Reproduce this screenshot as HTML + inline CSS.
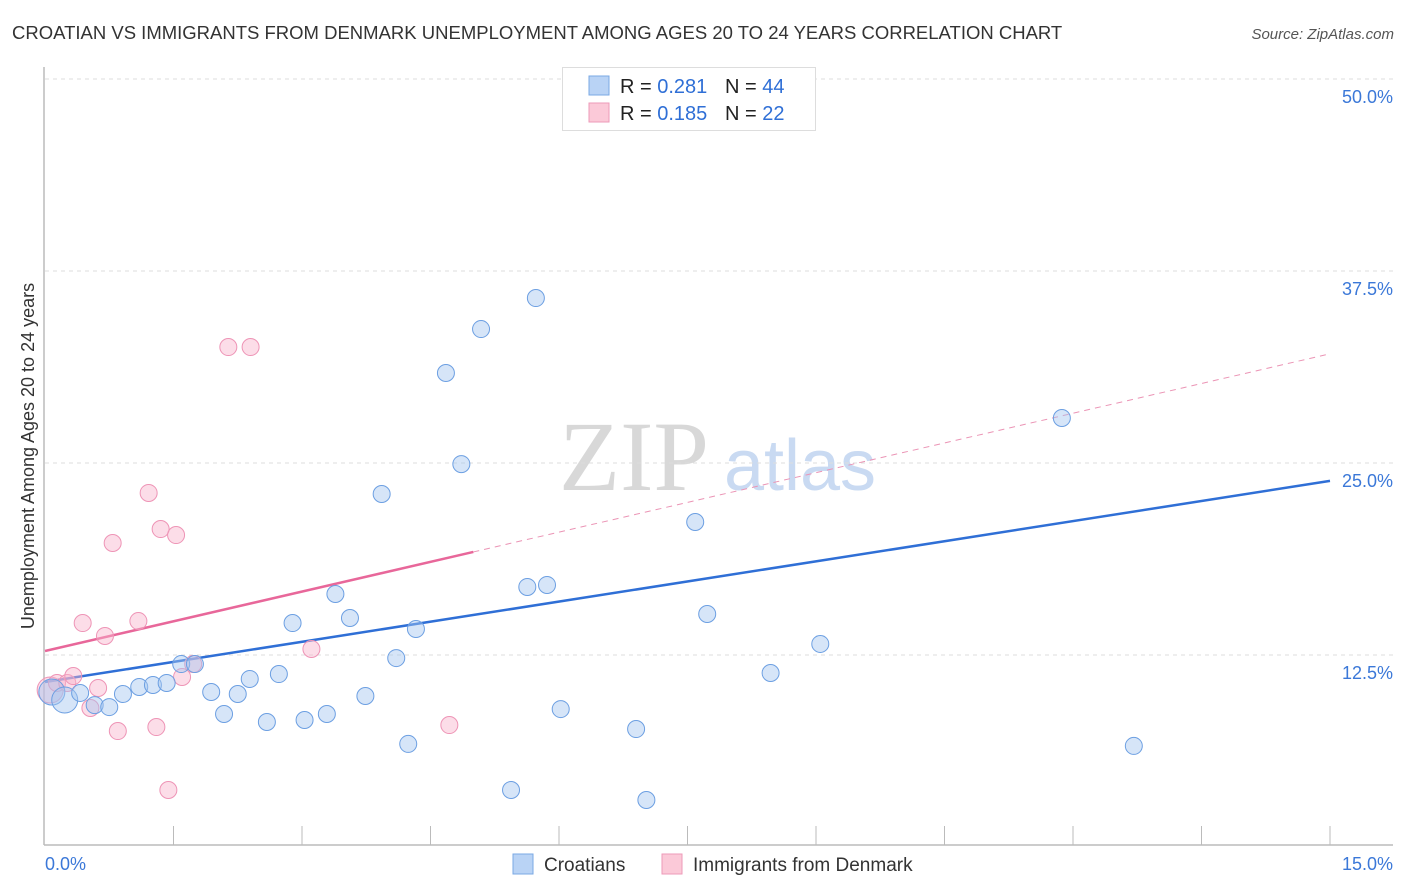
<!DOCTYPE html>
<html><head><meta charset="utf-8"><style>
body{margin:0;background:#fff;font-family:"Liberation Sans",sans-serif;}
#wrap{position:relative;width:1406px;height:892px;overflow:hidden;}
</style></head><body>
<div id="wrap">
<svg id="svg" width="1406" height="892">
<text x="12" y="39" font-size="18.5" fill="#333">CROATIAN VS IMMIGRANTS FROM DENMARK UNEMPLOYMENT AMONG AGES 20 TO 24 YEARS CORRELATION CHART</text>
<text x="1394" y="39" font-size="15" fill="#555" font-style="italic" text-anchor="end">Source: ZipAtlas.com</text>
<text x="634" y="490" font-size="100" fill="#d8d8d8" font-family="Liberation Serif,serif" text-anchor="middle">ZIP</text>
<text x="800" y="490" font-size="72" fill="#c9daf2" text-anchor="middle">atlas</text>
<text transform="translate(34,456) rotate(-90)" font-size="18" fill="#333" text-anchor="middle">Unemployment Among Ages 20 to 24 years</text>
<g id="grid"></g><g id="axes"></g><g id="lines"></g><g id="pts"></g>
<g>
<rect x="562.5" y="67.5" width="253" height="63" fill="#fff" stroke="#ddd"/>
<rect x="589" y="76" width="20" height="19" fill="#b9d3f5" stroke="#7aa8e4"/>
<rect x="589" y="103" width="20" height="19" fill="#fbc9d8" stroke="#ee9ab8"/>
<text x="620" y="93" font-size="20" fill="#222">R = <tspan fill="#2f6fd6">0.281</tspan></text>
<text x="725" y="93" font-size="20" fill="#222">N = <tspan fill="#2f6fd6">44</tspan></text>
<text x="620" y="120" font-size="20" fill="#222">R = <tspan fill="#2f6fd6">0.185</tspan></text>
<text x="725" y="120" font-size="20" fill="#222">N = <tspan fill="#2f6fd6"> 22</tspan></text>
</g>
<g>
<rect x="513" y="854" width="20" height="20" fill="#b9d3f5" stroke="#7aa8e4"/>
<text x="544" y="871" font-size="19" fill="#333">Croatians</text>
<rect x="662" y="854" width="20" height="20" fill="#fbc9d8" stroke="#ee9ab8"/>
<text x="693" y="871" font-size="19" fill="#333">Immigrants from Denmark</text>
</g>
</svg></div>
<script>
const blueX=[0.08,0.23,0.41,0.58,0.75,0.91,1.10,1.26,1.42,1.59,1.75,1.94,2.09,2.25,2.39,2.59,2.73,2.89,3.03,3.29,3.39,3.56,3.74,3.93,4.10,4.24,4.33,4.68,4.86,5.09,5.44,5.63,5.73,5.86,6.02,6.32,6.90,7.02,7.59,7.73,8.47,9.05,11.87,12.71];
const blueY=[10.09,9.57,10.03,9.24,9.11,9.96,10.42,10.55,10.68,11.91,11.91,10.09,8.66,9.96,10.94,8.14,11.26,14.58,8.27,8.66,16.47,14.91,9.83,22.98,12.30,6.71,14.19,30.86,24.93,33.72,3.71,16.93,35.74,17.06,8.98,49.93,7.68,3.06,21.16,15.17,11.33,13.22,27.93,6.58];
const pinkX=[0.06,0.14,0.26,0.33,0.44,0.62,0.53,0.70,0.79,0.85,1.09,1.21,1.30,1.35,1.44,1.53,1.60,1.73,2.14,2.40,3.11,4.72];
const pinkY=[10.22,10.68,10.68,11.13,14.58,10.35,9.05,13.74,19.79,7.55,14.71,23.05,7.81,20.70,3.71,20.31,11.07,11.91,32.55,32.55,12.89,7.94];
const yTicks=[12.5,25.0,37.5,50.0];
const xTickLabels=["0.0%","15.0%"];
const blueFit=[10.74,0.873]; // intercept, slope
const pinkFit=[12.76,1.29];
const pinkSolidEnd=5.0;

const sx=v=>45+v/15*1285;
const sy=v=>847-v/12.5*192;
const NS="http://www.w3.org/2000/svg";
function mk(tag,attrs,parent){const e=document.createElementNS(NS,tag);for(const k in attrs)e.setAttribute(k,attrs[k]);document.getElementById(parent).appendChild(e);return e;}

yTicks.forEach((t,i)=>{
  const g=mk('line',{x1:45,x2:1393,y1:sy(t),y2:sy(t),stroke:'#ddd','stroke-dasharray':'4,4'},'grid');
  
  
  const l=mk('text',{x:1393,y:sy(t)+24,'font-size':18,fill:'#3b78d8','text-anchor':'end'},'axes');
  l.textContent=t.toFixed(1)+'%';
  
  
});
const ax=mk('line',{x1:44,x2:44,y1:67,y2:845,stroke:'#bbb','stroke-width':1.5},'axes');


const bx=mk('line',{x1:44,x2:1393,y1:845,y2:845,stroke:'#bbb','stroke-width':1.5},'axes');


for(let i=1;i<=10;i++){
  const t=mk('line',{x1:sx(i*1.5),x2:sx(i*1.5),y1:826,y2:845,stroke:'#bbb'},'axes');
  
  
}
[[0,'start',45],[15,'end',1393]].forEach((d,i)=>{
  const l=mk('text',{x:d[2],y:870,'font-size':18,fill:'#3b78d8','text-anchor':d[1]},'axes');
  l.textContent=xTickLabels[i];
  
  
});
const bl=mk('line',{x1:sx(0),y1:sy(blueFit[0]),x2:sx(15),y2:sy(blueFit[0]+blueFit[1]*15),stroke:'#2f6fd6','stroke-width':2.5},'lines');


const pl=mk('line',{x1:sx(0),y1:sy(pinkFit[0]),x2:sx(pinkSolidEnd),y2:sy(pinkFit[0]+pinkFit[1]*pinkSolidEnd),stroke:'#e8679a','stroke-width':2.5},'lines');


const pd=mk('line',{x1:sx(pinkSolidEnd),y1:sy(pinkFit[0]+pinkFit[1]*pinkSolidEnd),x2:sx(15),y2:sy(pinkFit[0]+pinkFit[1]*15),stroke:'#eb94b5','stroke-width':1,'stroke-dasharray':'6,5'},'lines');


pinkX.forEach((x,i)=>{
  const c=mk('circle',{cx:sx(x),cy:sy(pinkY[i]),r:i===0?13:8.5,fill:'rgba(248,180,205,0.45)',stroke:'#ee94b6','stroke-width':1},'pts');
  
  
});
blueX.forEach((x,i)=>{
  const c=mk('circle',{cx:sx(x),cy:sy(blueY[i]),r:(i===0||i===1)?13:8.5,fill:'rgba(165,198,240,0.45)',stroke:'#6c9fe2','stroke-width':1},'pts');
  
  
});
</script>
</body></html>
